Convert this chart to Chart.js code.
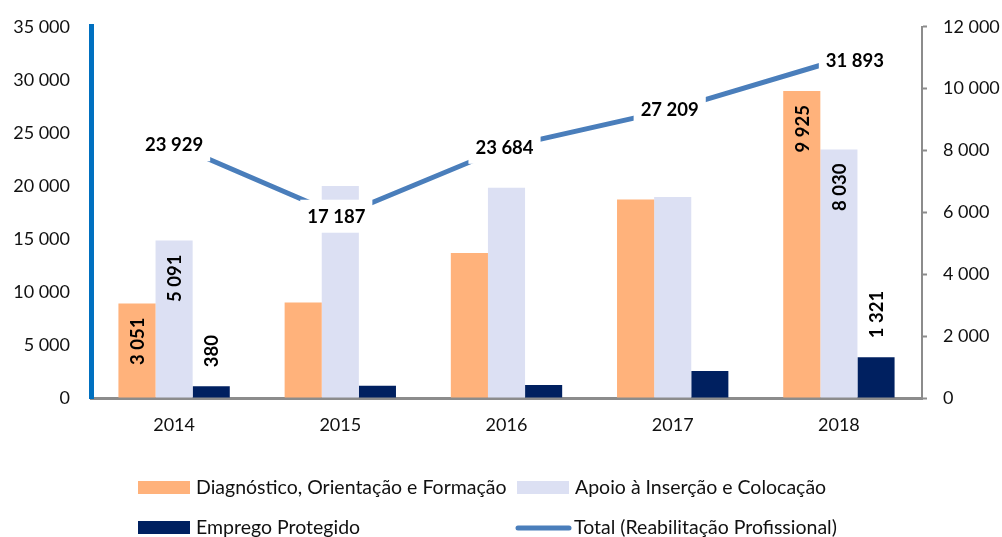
<!DOCTYPE html>
<html>
<head>
<meta charset="utf-8">
<script src="https://cdn.jsdelivr.net/npm/chart.js@4.4.1/dist/chart.umd.min.js"></script>
<style>
html,body{margin:0;padding:0;background:#fff;}
#wrap{width:1002px;height:537px;position:relative;}
</style>
</head>
<body>
<div id="wrap"><canvas id="c" width="1002" height="537"></canvas></div>
<script>
// ---- data ----
const categories = ['2014', '2015', '2016', '2017', '2018'];
const diagnostico = [3051, 3090, 4690, 6420, 9925];
const apoio = [5091, 6850, 6800, 6500, 8030];
const emprego = [380, 400, 420, 870, 1321];
const total = [23929, 17187, 23684, 27209, 31893];
const labeledYears = ['2014', '2018'];
const seriesNames = [
  'Diagnóstico, Orientação e Formação',
  'Apoio à Inserção e Colocação',
  'Emprego Protegido',
  'Total (Reabilitação Profissional)'
];
const leftAxisMax = 35000, leftAxisStep = 5000;
const rightAxisMax = 12000, rightAxisStep = 2000;

// ---- styles ----
const COLORS = ['#FFB27B', '#DCE0F3', '#002060', '#4A7EBB'];
const FONT = 'Lato, "Open Sans", sans-serif';

function fmt(v) {
  return String(Math.round(v)).replace(/\B(?=(\d{3})+(?!\d))/g, ' ');
}

const labelPlugin = {
  id: 'labels',
  afterDatasetsDraw(chart) {
    const ctx = chart.ctx;
    ctx.save();
    ctx.font = 'bold 18.5px ' + FONT;
    ctx.fillStyle = '#000';
    // bar labels (rotated)
    [0, 1, 2].forEach(di => {
      const meta = chart.getDatasetMeta(di);
      const vals = chart.data.datasets[di].data;
      meta.data.forEach((bar, i) => {
        if (!labeledYears.includes(categories[i])) return;
        const txt = fmt(vals[i]);
        ctx.save();
        ctx.translate(bar.x, bar.y);
        ctx.rotate(-Math.PI / 2);
        ctx.textBaseline = 'middle';
        if (di === 2) {
          ctx.textAlign = 'left';
          ctx.fillText(txt, 19, 1);
        } else {
          ctx.textAlign = 'right';
          ctx.fillText(txt, -14, 1);
        }
        ctx.restore();
      });
    });
    // line labels with white boxes
    const lmeta = chart.getDatasetMeta(3);
    const xShift = [0, -4, -2, -3, 16];
    lmeta.data.forEach((pt, i) => {
      const txt = fmt(total[i]);
      const w = ctx.measureText(txt).width;
      const cx = pt.x + xShift[i];
      const cy = pt.y;
      ctx.fillStyle = '#fff';
      ctx.fillRect(cx - w / 2 - 7, cy - 16, w + 14, 33);
      ctx.fillStyle = '#000';
      ctx.textAlign = 'center';
      ctx.textBaseline = 'middle';
      ctx.fillText(txt, cx, cy + 1);
    });
    ctx.restore();
  },
  afterDraw(chart) {
    const ctx = chart.ctx;
    ctx.save();
    ctx.font = '19.5px ' + FONT;
    ctx.textBaseline = 'middle';
    ctx.textAlign = 'left';
    const items = [
      {x: 138, y: 488, i: 0},
      {x: 517, y: 488, i: 1},
      {x: 138, y: 528, i: 2},
      {x: 516, y: 528, i: 3}
    ];
    items.forEach(it => {
      if (it.i === 3) {
        ctx.strokeStyle = COLORS[3];
        ctx.lineWidth = 5;
        ctx.lineCap = 'round';
        ctx.beginPath();
        ctx.moveTo(it.x + 2, it.y);
        ctx.lineTo(it.x + 53, it.y);
        ctx.stroke();
      } else {
        ctx.fillStyle = COLORS[it.i];
        ctx.fillRect(it.x, it.y - 7, 52, 13);
      }
      ctx.fillStyle = '#111';
      ctx.fillText(seriesNames[it.i], it.x + 58, it.y);
    });
    ctx.restore();
  }
};

new Chart(document.getElementById('c'), {
  type: 'bar',
  data: {
    labels: categories,
    datasets: [
      {label: seriesNames[0], data: diagnostico, backgroundColor: COLORS[0], yAxisID: 'yR', order: 2,
       categoryPercentage: 0.67, barPercentage: 1.0},
      {label: seriesNames[1], data: apoio, backgroundColor: COLORS[1], yAxisID: 'yR', order: 2,
       categoryPercentage: 0.67, barPercentage: 1.0},
      {label: seriesNames[2], data: emprego, backgroundColor: COLORS[2], yAxisID: 'yR', order: 2,
       categoryPercentage: 0.67, barPercentage: 1.0},
      {label: seriesNames[3], data: total, type: 'line', borderColor: COLORS[3], backgroundColor: COLORS[3],
       borderWidth: 5, pointRadius: 0, tension: 0, yAxisID: 'yL', order: 1, borderCapStyle: 'butt'}
    ]
  },
  options: {
    responsive: false,
    animation: false,
    layout: {padding: {left: 0, right: 0, top: 20, bottom: 79}},
    plugins: {legend: {display: false}, tooltip: {enabled: false}},
    scales: {
      x: {
        grid: {display: false},
        border: {display: true, color: '#8C8C8C', width: 3},
        ticks: {font: {family: FONT, size: 18}, color: '#111', padding: 8},
        afterFit(s) { s.height = 60; }
      },
      yL: {
        position: 'left',
        min: 0, max: leftAxisMax,
        grid: {display: false},
        border: {display: true, color: '#0070C0', width: 5},
        ticks: {stepSize: leftAxisStep, font: {family: FONT, size: 18}, color: '#111', padding: 13,
          callback: v => fmt(v)},
        afterFit(s) { s.width = 91; }
      },
      yR: {
        position: 'right',
        min: 0, max: rightAxisMax,
        grid: {display: true, drawOnChartArea: false, drawTicks: true, tickLength: 5, color: '#8C8C8C', tickWidth: 2},
        border: {display: true, color: '#8C8C8C', width: 2},
        ticks: {stepSize: rightAxisStep, font: {family: FONT, size: 18}, color: '#111', padding: 16,
          callback: v => fmt(v)},
        afterFit(s) { s.width = 80; }
      }
    }
  },
  plugins: [labelPlugin]
});
</script>
</body>
</html>
